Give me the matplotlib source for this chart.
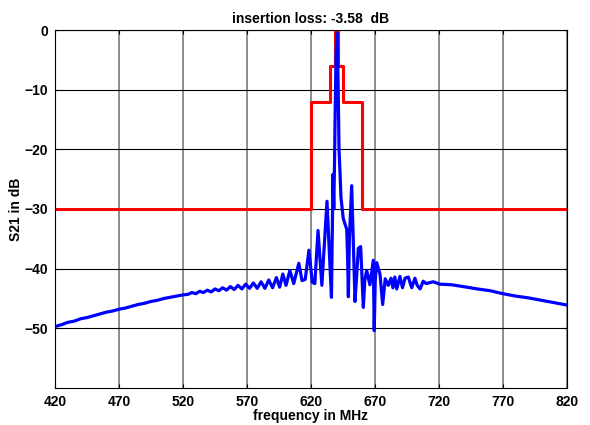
import matplotlib as mpl
mpl.use('Agg')
import matplotlib.pyplot as plt

freq = [420, 425, 430, 435, 440, 445, 450, 455, 460, 465, 470, 475, 480, 485,
        490, 495, 500, 505, 510, 515, 520, 524, 527, 530, 533, 536, 539, 542,
        545, 548, 551, 554, 557, 560, 563, 566, 569, 572, 575, 578, 581, 584,
        587, 590, 593, 595.5, 598, 600.5, 603.5, 606.5, 610.5, 613, 615.5,
        618.4, 621, 623, 625.5, 628.5, 632.5, 634.5, 636, 637.2, 637.8, 638.4,
        639, 639.6, 640.2, 640.8, 641.4, 641.9, 642.7, 643.4, 645.2, 647.9,
        648.6, 649.2, 650, 651.8, 653, 654.4, 656, 657, 658.8, 660.9, 662,
        663.5, 666, 668.7, 669.4, 670.2, 671.3, 673.9, 676, 678, 680.4, 682.5,
        684, 685.5, 687, 689.5, 691.5, 693.5, 696, 698.7, 701.2, 703, 705.2,
        707.7, 710, 715.5, 720.8, 730, 741.6, 750, 760, 770, 780, 790, 800,
        810, 820]
s21 = [-49.7, -49.4, -49.0, -48.8, -48.4, -48.2, -47.9, -47.6, -47.3, -47.1,
       -46.8, -46.6, -46.3, -46.0, -45.8, -45.5, -45.3, -45.0, -44.8, -44.6,
       -44.4, -44.3, -44.0, -44.2, -43.8, -44.0, -43.6, -43.9, -43.4, -43.7,
       -43.2, -43.6, -43.0, -43.5, -42.8, -43.4, -42.6, -43.3, -42.4, -43.3,
       -42.2, -43.3, -41.9, -43.2, -41.5, -43.1, -40.9, -42.8, -40.3, -42.5,
       -39.1, -42.0, -41.8, -36.9, -42.3, -42.5, -33.6, -42.8, -28.7, -38.0,
       -44.8, -24.2, -30.0, -22.0, -12.0, -4.0, -0.5, -4.0, -12.0, -20.0,
       -24.0, -28.0, -31.6, -33.4, -38.0, -44.7, -35.0, -26.1, -35.0, -45.5,
       -40.0, -36.6, -36.3, -46.5, -42.0, -40.3, -42.7, -38.6, -50.4, -42.0,
       -39.0, -40.9, -46.0, -41.7, -42.8, -41.6, -43.2, -41.4, -43.4, -41.3,
       -43.2, -41.6, -41.4, -43.2, -41.6, -42.8, -43.4, -42.1, -42.5, -42.2,
       -42.6, -42.7, -43.1, -43.4, -43.7, -44.2, -44.6, -44.9, -45.3, -45.7,
       -46.1]

# spec mask
mask_f = [420, 620, 620, 635, 635, 639, 639, 641, 641, 645, 645, 660, 660, 820]
mask_db = [-30, -30, -12, -12, -6, -6, 0, 0, -6, -6, -12, -12, -30, -30]

xticks = [420, 470, 520, 570, 620, 670, 720, 770, 820]
yticks = [-50, -40, -30, -20, -10, 0]

plt.rcParams['font.family'] = ['Liberation Sans', 'DejaVu Sans']

fig = plt.figure(figsize=(5.9, 4.25), dpi=100)
ax = fig.add_axes([0.0932, 0.0871, 0.8678, 0.8423])

ax.plot(mask_f, mask_db, color='#ff0000', linewidth=2.2)
ax.plot(freq, s21, color='#0000ff', linewidth=2.3)

ax.set_xlim(420, 820)
ax.set_ylim(-60, 0)
ax.set_xticks(xticks)
ax.set_yticks(yticks)
ax.xaxis.grid(True, color='#6f6f6f', linewidth=1.1)
ax.yaxis.grid(True, color='black', linewidth=0.8)
ax.set_axisbelow(True)
ax.tick_params(direction='in', length=3, top=True, right=True,
               labelsize=10, pad=5)
for lab in ax.get_xticklabels() + ax.get_yticklabels():
    lab.set_fontweight('bold')
for sp in ax.spines.values():
    sp.set_linewidth(0.8)

ax.set_title('insertion loss: -3.58  dB', fontsize=10, fontweight='bold', pad=5)
ax.set_xlabel('frequency in MHz', fontsize=10, fontweight='bold', labelpad=0)
ax.set_ylabel('S21 in dB', fontsize=10, fontweight='bold', labelpad=9, y=0.5)
ax.yaxis.set_label_coords(-0.062, 0.5)

fig.savefig('out.png', dpi=100)
